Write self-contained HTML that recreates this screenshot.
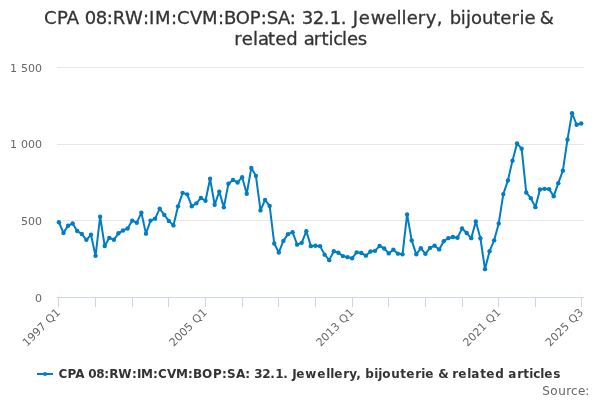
<!DOCTYPE html>
<html><head><meta charset="utf-8"><title>Chart</title>
<style>
html,body{margin:0;padding:0;background:#fff;}
body{width:600px;height:400px;overflow:hidden;font-family:"DejaVu Sans","Liberation Sans",Verdana,sans-serif;}
svg{display:block;}
svg text{font-family:"DejaVu Sans","Liberation Sans",Verdana,sans-serif;font-kerning:none;white-space:pre;}
</style></head><body>
<svg width="600" height="400" viewBox="0 0 600 400">
<rect x="0" y="0" width="600" height="400" fill="#ffffff"/>
<g stroke="#E6E6E6" stroke-width="1" fill="none">
<path d="M 57 67.5 L 584 67.5"/>
<path d="M 57 144.5 L 584 144.5"/>
<path d="M 57 220.5 L 584 220.5"/>
</g>
<path d="M 57 297.5 L 584 297.5" stroke="#CCD6EB" stroke-width="1" fill="none"/>
<path d="M 58.5 297 L 58.5 307 M 95.5 297 L 95.5 307 M 132.5 297 L 132.5 307 M 168.5 297 L 168.5 307 M 205.5 297 L 205.5 307 M 242.5 297 L 242.5 307 M 278.5 297 L 278.5 307 M 315.5 297 L 315.5 307 M 352.5 297 L 352.5 307 M 388.5 297 L 388.5 307 M 425.5 297 L 425.5 307 M 462.5 297 L 462.5 307 M 498.5 297 L 498.5 307 M 535.5 297 L 535.5 307 M 581.5 297 L 581.5 307" stroke="#CCD6EB" stroke-width="1" fill="none"/>
<path d="M 58.9 222.25 L 63.48 232.9 L 68.06 225.8 L 72.64 223.45 L 77.23 231.05 L 81.81 234.0 L 86.39 239.85 L 90.97 234.75 L 95.55 255.85 L 100.13 216.75 L 104.72 246.0 L 109.3 237.85 L 113.88 239.75 L 118.46 233.3 L 123.04 230.45 L 127.62 228.45 L 132.21 220.6 L 136.79 222.7 L 141.37 212.65 L 145.95 233.65 L 150.53 220.6 L 155.11 218.65 L 159.69 208.6 L 164.28 214.9 L 168.86 220.9 L 173.44 225.4 L 178.02 206.35 L 182.6 192.85 L 187.18 194.35 L 191.77 206.2 L 196.35 203.35 L 200.93 197.95 L 205.51 200.75 L 210.09 178.8 L 214.67 204.75 L 219.26 191.6 L 223.84 207.35 L 228.42 183.65 L 233.0 179.9 L 237.58 182.45 L 242.16 177.2 L 246.74 193.7 L 251.33 167.9 L 255.91 175.85 L 260.49 210.4 L 265.07 199.9 L 269.65 205.9 L 274.23 243.45 L 278.82 252.45 L 283.4 240.9 L 287.98 234.15 L 292.56 232.2 L 297.14 244.65 L 301.72 242.85 L 306.31 231.15 L 310.89 246.15 L 315.47 245.8 L 320.05 246.15 L 324.63 254.65 L 329.21 260.15 L 333.79 251.25 L 338.38 252.75 L 342.96 256.1 L 347.54 257.15 L 352.12 258.2 L 356.7 252.35 L 361.28 252.95 L 365.87 255.65 L 370.45 251.45 L 375.03 250.85 L 379.61 245.9 L 384.19 248.45 L 388.77 253.4 L 393.36 249.65 L 397.94 253.65 L 402.52 254.35 L 407.1 214.45 L 411.68 240.4 L 416.26 254.35 L 420.84 248.2 L 425.43 253.9 L 430.01 247.9 L 434.59 245.65 L 439.17 249.4 L 443.75 241.15 L 448.33 238.15 L 452.92 236.95 L 457.5 237.7 L 462.08 228.4 L 466.66 233.05 L 471.24 238.15 L 475.82 221.45 L 480.41 238.25 L 484.99 269.15 L 489.57 251.15 L 494.15 240.35 L 498.73 223.45 L 503.31 194.1 L 507.89 180.55 L 512.48 160.65 L 517.06 143.4 L 521.64 148.65 L 526.22 192.45 L 530.8 198.15 L 535.38 207.15 L 539.97 189.45 L 544.55 188.85 L 549.13 189.15 L 553.71 196.2 L 558.29 183.15 L 562.87 170.7 L 567.46 139.65 L 572.04 113.15 L 576.62 124.75 L 581.2 123.55" stroke="#007dc3" stroke-width="2" fill="none" stroke-linejoin="round" stroke-linecap="round"/>
<g fill="#007dc3"><circle cx="58.9" cy="222.25" r="2.2"/><circle cx="63.48" cy="232.9" r="2.2"/><circle cx="68.06" cy="225.8" r="2.2"/><circle cx="72.64" cy="223.45" r="2.2"/><circle cx="77.23" cy="231.05" r="2.2"/><circle cx="81.81" cy="234.0" r="2.2"/><circle cx="86.39" cy="239.85" r="2.2"/><circle cx="90.97" cy="234.75" r="2.2"/><circle cx="95.55" cy="255.85" r="2.2"/><circle cx="100.13" cy="216.75" r="2.2"/><circle cx="104.72" cy="246.0" r="2.2"/><circle cx="109.3" cy="237.85" r="2.2"/><circle cx="113.88" cy="239.75" r="2.2"/><circle cx="118.46" cy="233.3" r="2.2"/><circle cx="123.04" cy="230.45" r="2.2"/><circle cx="127.62" cy="228.45" r="2.2"/><circle cx="132.21" cy="220.6" r="2.2"/><circle cx="136.79" cy="222.7" r="2.2"/><circle cx="141.37" cy="212.65" r="2.2"/><circle cx="145.95" cy="233.65" r="2.2"/><circle cx="150.53" cy="220.6" r="2.2"/><circle cx="155.11" cy="218.65" r="2.2"/><circle cx="159.69" cy="208.6" r="2.2"/><circle cx="164.28" cy="214.9" r="2.2"/><circle cx="168.86" cy="220.9" r="2.2"/><circle cx="173.44" cy="225.4" r="2.2"/><circle cx="178.02" cy="206.35" r="2.2"/><circle cx="182.6" cy="192.85" r="2.2"/><circle cx="187.18" cy="194.35" r="2.2"/><circle cx="191.77" cy="206.2" r="2.2"/><circle cx="196.35" cy="203.35" r="2.2"/><circle cx="200.93" cy="197.95" r="2.2"/><circle cx="205.51" cy="200.75" r="2.2"/><circle cx="210.09" cy="178.8" r="2.2"/><circle cx="214.67" cy="204.75" r="2.2"/><circle cx="219.26" cy="191.6" r="2.2"/><circle cx="223.84" cy="207.35" r="2.2"/><circle cx="228.42" cy="183.65" r="2.2"/><circle cx="233.0" cy="179.9" r="2.2"/><circle cx="237.58" cy="182.45" r="2.2"/><circle cx="242.16" cy="177.2" r="2.2"/><circle cx="246.74" cy="193.7" r="2.2"/><circle cx="251.33" cy="167.9" r="2.2"/><circle cx="255.91" cy="175.85" r="2.2"/><circle cx="260.49" cy="210.4" r="2.2"/><circle cx="265.07" cy="199.9" r="2.2"/><circle cx="269.65" cy="205.9" r="2.2"/><circle cx="274.23" cy="243.45" r="2.2"/><circle cx="278.82" cy="252.45" r="2.2"/><circle cx="283.4" cy="240.9" r="2.2"/><circle cx="287.98" cy="234.15" r="2.2"/><circle cx="292.56" cy="232.2" r="2.2"/><circle cx="297.14" cy="244.65" r="2.2"/><circle cx="301.72" cy="242.85" r="2.2"/><circle cx="306.31" cy="231.15" r="2.2"/><circle cx="310.89" cy="246.15" r="2.2"/><circle cx="315.47" cy="245.8" r="2.2"/><circle cx="320.05" cy="246.15" r="2.2"/><circle cx="324.63" cy="254.65" r="2.2"/><circle cx="329.21" cy="260.15" r="2.2"/><circle cx="333.79" cy="251.25" r="2.2"/><circle cx="338.38" cy="252.75" r="2.2"/><circle cx="342.96" cy="256.1" r="2.2"/><circle cx="347.54" cy="257.15" r="2.2"/><circle cx="352.12" cy="258.2" r="2.2"/><circle cx="356.7" cy="252.35" r="2.2"/><circle cx="361.28" cy="252.95" r="2.2"/><circle cx="365.87" cy="255.65" r="2.2"/><circle cx="370.45" cy="251.45" r="2.2"/><circle cx="375.03" cy="250.85" r="2.2"/><circle cx="379.61" cy="245.9" r="2.2"/><circle cx="384.19" cy="248.45" r="2.2"/><circle cx="388.77" cy="253.4" r="2.2"/><circle cx="393.36" cy="249.65" r="2.2"/><circle cx="397.94" cy="253.65" r="2.2"/><circle cx="402.52" cy="254.35" r="2.2"/><circle cx="407.1" cy="214.45" r="2.2"/><circle cx="411.68" cy="240.4" r="2.2"/><circle cx="416.26" cy="254.35" r="2.2"/><circle cx="420.84" cy="248.2" r="2.2"/><circle cx="425.43" cy="253.9" r="2.2"/><circle cx="430.01" cy="247.9" r="2.2"/><circle cx="434.59" cy="245.65" r="2.2"/><circle cx="439.17" cy="249.4" r="2.2"/><circle cx="443.75" cy="241.15" r="2.2"/><circle cx="448.33" cy="238.15" r="2.2"/><circle cx="452.92" cy="236.95" r="2.2"/><circle cx="457.5" cy="237.7" r="2.2"/><circle cx="462.08" cy="228.4" r="2.2"/><circle cx="466.66" cy="233.05" r="2.2"/><circle cx="471.24" cy="238.15" r="2.2"/><circle cx="475.82" cy="221.45" r="2.2"/><circle cx="480.41" cy="238.25" r="2.2"/><circle cx="484.99" cy="269.15" r="2.2"/><circle cx="489.57" cy="251.15" r="2.2"/><circle cx="494.15" cy="240.35" r="2.2"/><circle cx="498.73" cy="223.45" r="2.2"/><circle cx="503.31" cy="194.1" r="2.2"/><circle cx="507.89" cy="180.55" r="2.2"/><circle cx="512.48" cy="160.65" r="2.2"/><circle cx="517.06" cy="143.4" r="2.2"/><circle cx="521.64" cy="148.65" r="2.2"/><circle cx="526.22" cy="192.45" r="2.2"/><circle cx="530.8" cy="198.15" r="2.2"/><circle cx="535.38" cy="207.15" r="2.2"/><circle cx="539.97" cy="189.45" r="2.2"/><circle cx="544.55" cy="188.85" r="2.2"/><circle cx="549.13" cy="189.15" r="2.2"/><circle cx="553.71" cy="196.2" r="2.2"/><circle cx="558.29" cy="183.15" r="2.2"/><circle cx="562.87" cy="170.7" r="2.2"/><circle cx="567.46" cy="139.65" r="2.2"/><circle cx="572.04" cy="113.15" r="2.2"/><circle cx="576.62" cy="124.75" r="2.2"/><circle cx="581.2" cy="123.55" r="2.2"/></g>
<text x="44.00 57.00 66.85 78.85 84.85 95.85 106.85 112.85 125.12 143.06 149.06 155.06 171.06 177.06 190.06 202.06 218.06 224.06 235.75 249.75 260.75 266.75 278.08 289.77 295.77 301.77 312.77 323.77 329.77 340.77 346.77 352.77 358.77 370.67 385.47 396.53 401.59 406.65 417.71 425.77 436.77 442.77 449.77 460.85 465.94 471.03 482.12 493.21 500.30 511.39 519.48 524.57 533.77 539.77" y="24" font-size="18px" fill="#333333" stroke="#333333" stroke-width="0.3">CPA 08:RW:IM:CVM:BOP:SA: 32.1. Jewellery, bijouterie &amp;</text>
<text x="234.20 241.87 252.94 258.00 268.07 275.14 286.20 296.60 303.80 313.66 321.52 328.38 333.23 342.09 346.95 357.80" y="45" font-size="18px" fill="#333333" stroke="#333333" stroke-width="0.3">related articles</text>
<text x="10.00 17.00 21.00 28.00 35.00" y="72" font-size="11px" fill="#666666">1 500</text>
<text x="10.00 17.00 21.00 28.00 35.00" y="148.4" font-size="11px" fill="#666666">1 000</text>
<text x="21.00 28.00 35.00" y="225" font-size="11px" fill="#666666">500</text>
<text x="35.00" y="302" font-size="11px" fill="#666666">0</text>
<text transform="translate(61.0 313) rotate(-45)" x="-48.00 -41.00 -34.00 -27.00 -20.00 -16.00 -7.00" y="0" font-size="11px" fill="#666666">1997 Q1</text><text transform="translate(207.81 313) rotate(-45)" x="-48.00 -41.00 -34.00 -27.00 -20.00 -16.00 -7.00" y="0" font-size="11px" fill="#666666">2005 Q1</text><text transform="translate(354.61 313) rotate(-45)" x="-48.00 -41.00 -34.00 -27.00 -20.00 -16.00 -7.00" y="0" font-size="11px" fill="#666666">2013 Q1</text><text transform="translate(501.42 313) rotate(-45)" x="-48.00 -41.00 -34.00 -27.00 -20.00 -16.00 -7.00" y="0" font-size="11px" fill="#666666">2021 Q1</text><text transform="translate(584.0 313) rotate(-45)" x="-48.00 -41.00 -34.00 -27.00 -20.00 -16.00 -7.00" y="0" font-size="11px" fill="#666666">2025 Q3</text>
<path d="M 37 374 L 53 374" stroke="#007dc3" stroke-width="2" fill="none"/>
<circle cx="45" cy="374" r="2" fill="#007dc3"/>
<text x="58.45 67.45 75.35 84.35 88.35 96.35 104.35 109.35 118.35 131.98 136.98 140.98 152.98 157.98 166.98 175.98 187.98 192.98 201.98 212.98 221.98 226.98 235.98 245.20 250.20 254.20 262.20 270.20 275.20 283.20 288.20 292.20 296.20 305.20 317.20 326.20 330.20 334.20 343.20 349.20 356.27 361.27 365.27 374.27 378.27 382.27 391.27 400.27 406.27 415.27 421.27 425.27 434.27 438.27 448.27 452.27 458.27 467.27 471.27 480.27 486.27 495.27 504.27 508.27 517.27 523.27 529.27 533.27 540.27 544.27 553.27" y="378" font-size="12px" font-weight="bold" fill="#333333">CPA 08:RW:IM:CVM:BOP:SA: 32.1. Jewellery, bijouterie &amp; related articles</text>
<text x="542.26 550.26 558.26 566.26 571.00 578.00 585.20" y="395" font-size="12px" fill="#666666">Source:</text>
</svg>
</body></html>
